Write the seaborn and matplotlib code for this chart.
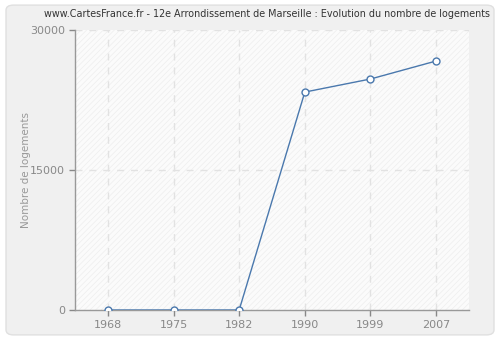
import matplotlib
matplotlib.use("Agg")
import matplotlib.pyplot as plt
import seaborn as sns
import pandas as pd
from matplotlib.patches import FancyBboxPatch, Rectangle

years = ["1968", "1975", "1982", "1990", "1999", "2007"]
logements = [0, 0, 0, 23350, 24750, 26680]
yticks = [0, 15000, 30000]

df = pd.DataFrame({"annee": years, "logements": logements})
df["pos"] = range(len(years))

sns.set_theme(style="white")
plt.rcParams['font.family'] = ['DejaVu Sans']
plt.rcParams['hatch.linewidth'] = 0.5

fig = plt.figure(figsize=(5, 3.4), dpi=100)
fig.patch.set_facecolor("#ffffff")
bg = FancyBboxPatch((0.012, 0.015), 0.976, 0.97, boxstyle="round,pad=0,rounding_size=0.015",
                    transform=fig.transFigure, facecolor="#f0f0f0", edgecolor="#e0e0e0",
                    linewidth=1, zorder=-10)
fig.patches.append(bg)

ax = fig.add_axes([75/500, 30/340, (469-75)/500, (310-30)/340])
ax.set_facecolor("#fbfbfb")
hatch = Rectangle((0, 0), 1, 1, transform=ax.transAxes, facecolor="none",
                  edgecolor="#eeeeee", hatch="//////", linewidth=0, zorder=0)
ax.add_patch(hatch)

for i in range(len(years)):
    ax.axvline(i, color="#e2e2e2", linestyle=(0, (5, 5)), linewidth=1, zorder=1)
for yv in yticks[1:]:
    ax.axhline(yv, color="#e2e2e2", linestyle=(0, (5, 5)), linewidth=1, zorder=1)

sns.lineplot(data=df, x="pos", y="logements", ax=ax, color="#4a78ad", linewidth=1,
             marker="o", markersize=5, markerfacecolor="white", markeredgecolor="#4a78ad",
             markeredgewidth=1, zorder=3)

ax.set_xlim(-0.5, len(years) - 0.5)
ax.set_ylim(0, 30000)
ax.set_xticks(range(len(years)))
ax.set_xticklabels(years)
ax.set_yticks(yticks)
ax.set_yticklabels([str(v) for v in yticks])
ax.tick_params(axis="both", colors="#888888", labelsize=8, length=4, width=1,
               direction="out", left=True, bottom=True, pad=3)
ax.tick_params(axis="both", labelcolor="#888888")
for s in ["top", "right"]:
    ax.spines[s].set_visible(False)
for s in ["left", "bottom"]:
    ax.spines[s].set_color("#999999")
    ax.spines[s].set_linewidth(1)
ax.set_xlabel("")
ax.set_ylabel("Nombre de logements", color="#999999", fontsize=7.5)
ax.yaxis.set_label_coords(-44/394, 0.5)
fig.text(0.534, 0.973, "www.CartesFrance.fr - 12e Arrondissement de Marseille : Evolution du nombre de logements",
         ha="center", va="top", fontsize=6.9, color="#333333")

fig.savefig("out.png", dpi=100)
